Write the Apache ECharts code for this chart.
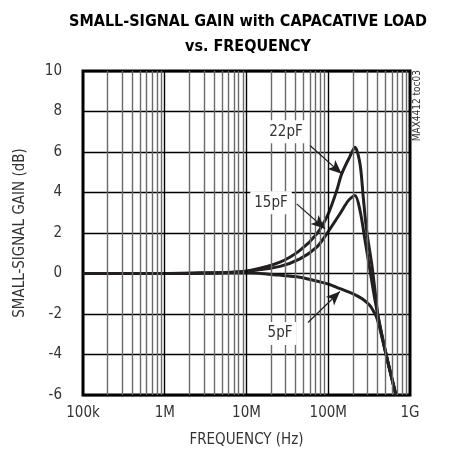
<!DOCTYPE html>
<html>
<head>
<meta charset="utf-8">
<script src="https://cdn.jsdelivr.net/npm/echarts@6/dist/echarts.min.js"></script>
<style>
  html, body { margin: 0; padding: 0; background: #fff; }
  #main { width: 449px; height: 455px; }
</style>
</head>
<body>
<div id="main"></div>
<script>
// 频率 (Hz) 与增益 (dB) 读图数据
var freq22 = [1e5, 1e6, 2.7e6, 6.3e6, 11e6, 25.7e6, 45e6, 72.3e6, 100e6, 127e6, 146e6, 185e6, 212e6, 245e6, 268e6, 295e6, 340e6, 373e6, 409e6, 519e6, 675e6];
var gain22 = [0, 0, 0.02, 0.06, 0.15, 0.56, 1.14, 1.96, 2.95, 4.1, 4.92, 5.8, 6.24, 5.4, 3.77, 2.12, 0.48, -0.84, -2.16, -4.13, -6.02];

var freq15 = [1e5, 1e6, 2.7e6, 6.3e6, 11e6, 25.7e6, 45e6, 72.3e6, 95.7e6, 139e6, 176e6, 212e6, 245e6, 282e6, 324e6, 365e6, 409e6, 519e6, 675e6];
var gain15 = [0, 0, 0.02, 0.05, 0.12, 0.35, 0.72, 1.3, 1.96, 2.95, 3.6, 3.85, 3.1, 1.63, 0.15, -1.1, -2.16, -4.13, -6.02];

var freq5 = [1e5, 1e6, 5e6, 11e6, 25e6, 45e6, 60e6, 80e6, 105e6, 139e6, 180e6, 223e6, 260e6, 295e6, 330e6, 356e6, 385e6, 420e6, 519e6, 675e6];
var gain5 = [0, 0, 0.02, 0.03, -0.08, -0.18, -0.3, -0.42, -0.55, -0.75, -0.92, -1.09, -1.25, -1.42, -1.62, -1.85, -2.1, -2.6, -4.13, -6.02];

var xTickLabels = ['100k', '1M', '10M', '100M', '1G'];

// 标注: [文字位置, 箭头起点, 箭头终点]  (频率, 增益)
var note22 = { text: '22pF', label: [30.4e6, 7.0], from: [59.8e6, 6.32], to: [146e6, 4.92] };
var note15 = { text: '15pF', label: [19.95e6, 3.5], from: [41.1e6, 3.44], to: [91.2e6, 2.21] };
var note5 = { text: '5pF', label: [25.7e6, -2.96], from: [56.5e6, -2.42], to: [139e6, -0.89] };

var FONT = '"Liberation Sans Narrow", "DejaVu Sans Condensed", Arial, sans-serif';
var INK = '#231f20';

function pairs(xs, ys) {
	return xs.map(function(x, i) { return [x, ys[i]]; });
}

// 对数坐标的次网格线 2..9 x 10^n
var minorLines = [];
var majorLines = [];
for (var e = 5; e < 9; e++) {
	for (var m = 2; m <= 9; m++) minorLines.push({ xAxis: m * Math.pow(10, e) });
	if (e > 5) majorLines.push({ xAxis: Math.pow(10, e) });
}

function noteSeries(note) {
	return {
		type: 'line',
		data: [],
		z: 5,
		markLine: {
			silent: true,
			symbol: ['none', 'arrow'],
			symbolSize: [9, 14],
			label: { show: false },
			lineStyle: { color: INK, width: 1.2, type: 'solid' },
			data: [[{ coord: note.from }, { coord: note.to }]]
		},
		markPoint: {
			silent: true,
			symbol: 'rect',
			symbolSize: 0.01,
			data: [{ coord: note.label }],
			label: {
				show: true,
				position: 'inside',
				formatter: note.text,
				color: '#333',
				fontFamily: FONT,
				fontSize: 15,
				backgroundColor: '#fff',
				padding: [4, 4]
			}
		}
	};
}

function curve(xs, ys) {
	return {
		type: 'line',
		data: pairs(xs, ys),
		showSymbol: false,
		smooth: 0.3,
		z: 4,
		lineStyle: { color: INK, width: 3 }
	};
}

var myChart = echarts.init(document.getElementById('main'), null, { renderer: 'canvas' });
var option = {
	animation: false,
	backgroundColor: '#fff',
	title: {
		text: 'SMALL-SIGNAL GAIN with CAPACATIVE LOAD\nvs. FREQUENCY',
		left: 243,
		top: 4,
		textAlign: 'center',
		textStyle: { fontFamily: FONT, fontWeight: 'bold', fontSize: 16, lineHeight: 25, color: '#000' }
	},
	grid: { left: 83, right: 39, top: 71, bottom: 60, show: true, borderColor: '#000', borderWidth: 3, backgroundColor: 'transparent' },
	xAxis: {
		type: 'log',
		logBase: 10,
		min: 1e5,
		max: 1e9,
		name: 'FREQUENCY (Hz)',
		nameLocation: 'middle',
		nameGap: 38,
		nameTextStyle: { fontFamily: FONT, fontSize: 15, color: '#333' },
		axisLine: { show: false },
		axisTick: { show: false },
		axisLabel: {
			margin: 11,
			fontFamily: FONT,
			fontSize: 15,
			color: '#333',
			formatter: function(v) {
				var i = Math.round(Math.log10(v)) - 5;
				return xTickLabels[i] || '';
			}
		},
		splitLine: { show: false }
	},
	yAxis: {
		type: 'value',
		min: -6,
		max: 10,
		interval: 2,
		name: 'SMALL-SIGNAL GAIN (dB)',
		nameLocation: 'middle',
		nameGap: 55,
		nameTextStyle: { fontFamily: FONT, fontSize: 15, color: '#333' },
		axisLine: { show: false },
		axisTick: { show: false },
		axisLabel: { margin: 21, fontFamily: FONT, fontSize: 15, color: '#333' },
		splitLine: { show: true, lineStyle: { color: '#000', width: 1.3 } }
	},
	graphic: [
		{
			type: 'text',
			left: 412,
			top: 70,
			rotation: Math.PI / 2,
			style: { text: 'MAX4412 toc03', font: '10px ' + FONT, fill: '#333' }
		}
	],
	series: [
		{
			type: 'line',
			data: [],
			z: 1,
			markLine: {
				silent: true,
				symbol: 'none',
				label: { show: false },
				lineStyle: { color: '#6a6a6a', width: 1.4, type: 'solid' },
				data: minorLines
			}
		},
		{
			type: 'line',
			data: [],
			z: 2,
			markLine: {
				silent: true,
				symbol: 'none',
				label: { show: false },
				lineStyle: { color: '#000', width: 1.4, type: 'solid' },
				data: majorLines
			}
		},
		curve(freq22, gain22),
		curve(freq15, gain15),
		curve(freq5, gain5),
		noteSeries(note22),
		noteSeries(note15),
		noteSeries(note5)
	]
};
myChart.setOption(option);
</script>
</body>
</html>
